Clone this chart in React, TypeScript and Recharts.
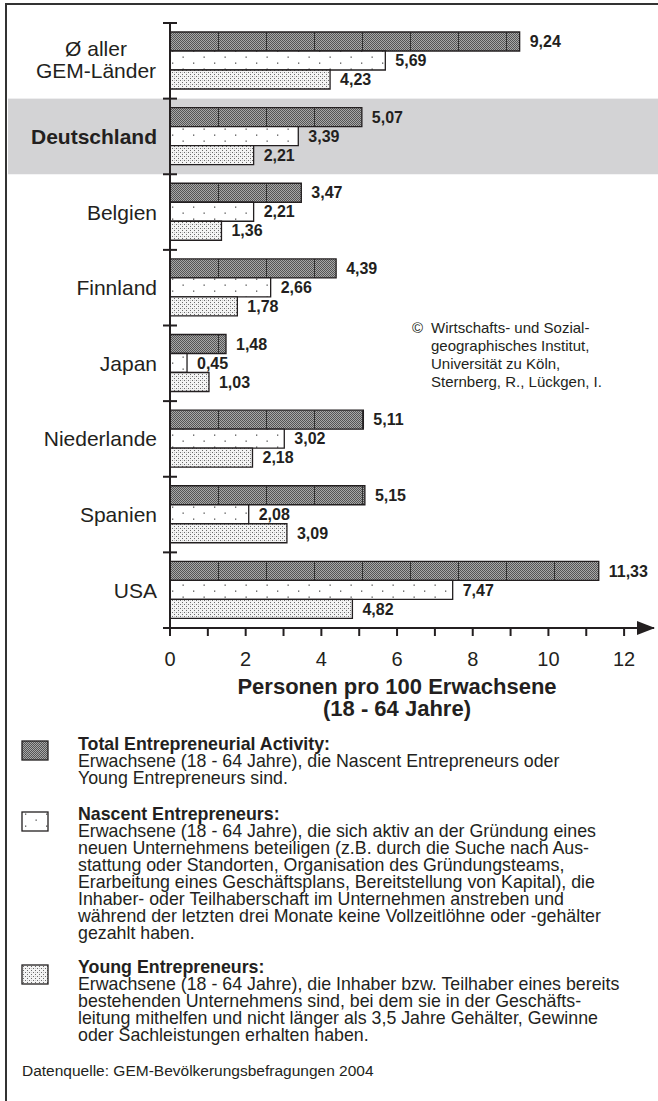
import React from 'react';
import { BarChart, Bar, XAxis, YAxis, ReferenceArea, LabelList } from 'recharts';

// ---------- data ----------
const categories = ['Ø aller\nGEM-Länder', 'Deutschland', 'Belgien', 'Finnland', 'Japan', 'Niederlande', 'Spanien', 'USA'];
const teaValues = [9.24, 5.07, 3.47, 4.39, 1.48, 5.11, 5.15, 11.33];
const nascentValues = [5.69, 3.39, 2.21, 2.66, 0.45, 3.02, 2.08, 7.47];
const youngValues = [4.23, 2.21, 1.36, 1.78, 1.03, 2.18, 3.09, 4.82];
const xTicks = [0, 1, 2, 3, 4, 5, 6, 7, 8, 9, 10, 11, 12];
const xTickLabels = [0, 2, 4, 6, 8, 10, 12];
const highlightCategory = 'Deutschland';
const AXIS_END = 12.79;

const axisTitle = ['Personen pro 100 Erwachsene', '(18 - 64 Jahre)'];
const copyrightLines = ['Wirtschafts- und Sozial-', 'geographisches Institut,', 'Universität zu Köln,', 'Sternberg, R., Lückgen, I.'];

const legendBlocks = [
  {
    key: 'tea',
    title: 'Total Entrepreneurial Activity:',
    lines: ['Erwachsene (18 - 64 Jahre), die Nascent Entrepreneurs oder', 'Young Entrepreneurs sind.'],
  },
  {
    key: 'nascent',
    title: 'Nascent Entrepreneurs:',
    lines: [
      'Erwachsene (18 - 64 Jahre), die sich aktiv an der Gründung eines',
      'neuen Unternehmens beteiligen (z.B. durch die Suche nach Aus-',
      'stattung oder Standorten, Organisation des Gründungsteams,',
      'Erarbeitung eines Geschäftsplans, Bereitstellung von Kapital), die',
      'Inhaber- oder Teilhaberschaft im Unternehmen anstreben und',
      'während der letzten drei Monate keine Vollzeitlöhne oder -gehälter',
      'gezahlt haben.',
    ],
  },
  {
    key: 'young',
    title: 'Young Entrepreneurs:',
    lines: [
      'Erwachsene (18 - 64 Jahre), die Inhaber bzw. Teilhaber eines bereits',
      'bestehenden Unternehmens sind, bei dem sie in der Geschäfts-',
      'leitung mithelfen und nicht länger als 3,5 Jahre Gehälter, Gewinne',
      'oder Sachleistungen erhalten haben.',
    ],
  },
];
const sourceText = 'Datenquelle: GEM-Bevölkerungsbefragungen 2004';

const data = categories.map((name, i) => ({
  name,
  tea: teaValues[i],
  nascent: nascentValues[i],
  young: youngValues[i],
}));

// ---------- styles ----------
const FONT = '"Liberation Sans", Arial, Helvetica, sans-serif';
const INK = '#231f20';
const CHART_W = 658;
const CHART_H = 740;
const MARGIN = { top: 23, right: 4, bottom: 52, left: 0 };
const Y_AXIS_W = 170;
const X_AXIS_H = 60;
const FALLBACK_HALF_BAND = (CHART_H - MARGIN.top - MARGIN.bottom - X_AXIS_H) / categories.length / 2;

const fmt = (v: any) => Number(v).toFixed(2).replace('.', ',');

const PatternDefs = ({ prefix, withLines }: { prefix: string; withLines: boolean }) => (
  <defs>
    <pattern id={`${prefix}TeaBase`} width="2" height="2" patternUnits="userSpaceOnUse">
      <rect width="2" height="2" fill="#a8a8a8" />
      <rect width="1" height="1" fill="#555555" />
      <rect x="1" y="1" width="1" height="1" fill="#555555" />
    </pattern>
    <pattern id={`${prefix}Tea`} x={withLines ? Y_AXIS_W : 0} width="48" height="2" patternUnits="userSpaceOnUse">
      <rect width="48" height="2" fill={`url(#${prefix}TeaBase)`} />
      {withLines && <rect x="0" y="0" width="1" height="2" fill="#333" />}
    </pattern>
    <pattern id={`${prefix}Nascent`} width="21" height="12" patternUnits="userSpaceOnUse">
      <rect width="21" height="12" fill="#ffffff" />
      <rect x="4" y="2.5" width="1.3" height="1.3" fill="#555" />
      <rect x="14.5" y="8.5" width="1.3" height="1.3" fill="#555" />
    </pattern>
    <pattern id={`${prefix}Young`} width="4" height="4" patternUnits="userSpaceOnUse">
      <rect width="4" height="4" fill="#f4f4f4" />
      <rect x="0" y="0" width="1" height="1" fill="#6a6a6a" />
      <rect x="2" y="2" width="1" height="1" fill="#6a6a6a" />
      <rect x="2" y="0" width="1" height="1" fill="#c8c8c8" />
    </pattern>
  </defs>
);

const YTick = (props: any) => {
  const { x, y, payload, index, visibleTicksCount } = props;
  const half = payload && payload.offset ? payload.offset : FALLBACK_HALF_BAND;
  const label = String(payload.value);
  const lines = label.split('\n');
  const bold = label === highlightCategory;
  const common = { fill: INK, fontSize: 21, fontFamily: FONT, dominantBaseline: 'central' as any };
  return (
    <g>
      <line x1={x - 7} x2={x + 7} y1={y - half} y2={y - half} stroke={INK} strokeWidth={2} />
      {index === visibleTicksCount - 1 && (
        <line x1={x - 7} x2={x + 7} y1={y + half} y2={y + half} stroke={INK} strokeWidth={2} />
      )}
      {lines.length === 1 ? (
        <text x={x - 13} y={y} textAnchor="end" fontWeight={bold ? 'bold' : 'normal'} {...common}>
          {lines[0]}
        </text>
      ) : (
        lines.map((ln, i) => (
          <text key={i} x={x - 74} y={y + (i - (lines.length - 1) / 2) * 22 - 1} textAnchor="middle" {...common}>
            {ln}
          </text>
        ))
      )}
    </g>
  );
};

const XTick = (props: any) => {
  const { x, y, payload } = props;
  const v = payload.value;
  if (v === AXIS_END) {
    return <polygon points={`${x + 1},${y} ${x - 17},${y - 7} ${x - 17},${y + 7}`} fill={INK} />;
  }
  return (
    <g>
      <line x1={x} x2={x} y1={y} y2={y + 8} stroke={INK} strokeWidth={2} />
      {xTickLabels.includes(v) && (
        <text x={x} y={y + 31} textAnchor="middle" dominantBaseline="central" fill={INK} fontSize={20} fontFamily={FONT}>
          {v}
        </text>
      )}
    </g>
  );
};

const BandShape = (props: any) => (
  <rect x={8} y={props.y} width={CHART_W - 8} height={props.height} fill="#d3d3d5" />
);

const labelProps = { fill: INK, fontSize: 16, fontWeight: 'bold', fontFamily: FONT };

const Swatch = ({ kind, top }: { kind: string; top: number }) => {
  const fill = kind === 'tea' ? 'url(#lgTea)' : kind === 'nascent' ? 'url(#lgNascent)' : 'url(#lgYoung)';
  return (
    <svg width={28} height={21} style={{ position: 'absolute', left: 21, top }}>
      <PatternDefs prefix={`lg`} withLines={false} />
      <rect x={1} y={1} width={26} height={19} fill={fill} stroke={INK} strokeWidth={1.3} />
    </svg>
  );
};

const LH = 17;
const LEGEND_FS = 17.8;
const legendTops = [736, 806, 959];
const swatchTops = [740, 811, 964];

export default function App() {
  return (
    <div
      style={{
        position: 'absolute',
        left: 0,
        top: 0,
        width: 658,
        height: 1101,
        background: '#fff',
        overflow: 'hidden',
        fontFamily: FONT,
        color: INK,
      }}
    >
      <div
        style={{
          position: 'absolute',
          left: 5,
          top: 3,
          width: 800,
          height: 1300,
          borderLeft: `2px solid #333`,
          borderTop: `2px solid #333`,
        }}
      />
      <div style={{ position: 'absolute', left: 0, top: 0 }}>
        <BarChart
          width={CHART_W}
          height={CHART_H}
          layout="vertical"
          data={data}
          margin={MARGIN}
          barCategoryGap={9}
          barGap={0}
        >
          <PatternDefs prefix="bar" withLines={true} />
          <ReferenceArea y1={highlightCategory} y2={highlightCategory} shape={BandShape} ifOverflow="visible" />
          <XAxis
            type="number"
            domain={[0, AXIS_END]}
            ticks={[...xTicks, AXIS_END]}
            interval={0}
            tick={<XTick />}
            tickLine={false}
            tickSize={0}
            tickMargin={0}
            axisLine={{ stroke: INK, strokeWidth: 2 }}
            height={X_AXIS_H}
            allowDataOverflow
          />
          <YAxis
            type="category"
            dataKey="name"
            width={Y_AXIS_W}
            tick={<YTick />}
            tickLine={false}
            tickSize={0}
            tickMargin={0}
            interval={0}
            axisLine={{ stroke: INK, strokeWidth: 2 }}
          />
          <Bar dataKey="tea" fill="url(#barTea)" stroke={INK} strokeWidth={1.3} isAnimationActive={false}>
            <LabelList dataKey="tea" position="right" offset={10} formatter={fmt} {...labelProps} />
          </Bar>
          <Bar dataKey="nascent" fill="url(#barNascent)" stroke={INK} strokeWidth={1.3} isAnimationActive={false}>
            <LabelList dataKey="nascent" position="right" offset={10} formatter={fmt} {...labelProps} />
          </Bar>
          <Bar dataKey="young" fill="url(#barYoung)" stroke={INK} strokeWidth={1.3} isAnimationActive={false}>
            <LabelList dataKey="young" position="right" offset={10} formatter={fmt} {...labelProps} />
          </Bar>
        </BarChart>
      </div>

      {/* copyright note */}
      <div style={{ position: 'absolute', left: 412, top: 319, fontSize: 15, lineHeight: '18px', whiteSpace: 'nowrap' }}>
        <span style={{ position: 'absolute', left: 0, top: 0 }}>©</span>
        {copyrightLines.map((ln, i) => (
          <div key={i} style={{ position: 'absolute', left: 19, top: i * 18 }}>
            {ln}
          </div>
        ))}
      </div>

      {/* axis title */}
      {axisTitle.map((t, i) => (
        <div
          key={t}
          style={{
            position: 'absolute',
            left: 197,
            width: 400,
            top: 675 + i * 22,
            textAlign: 'center',
            fontWeight: 'bold',
            fontSize: 22,
            lineHeight: '24px',
            whiteSpace: 'nowrap',
          }}
        >
          {t}
        </div>
      ))}

      {/* legend */}
      {legendBlocks.map((b, bi) => (
        <React.Fragment key={b.key}>
          <Swatch kind={b.key} top={swatchTops[bi]} />
          <div
            style={{
              position: 'absolute',
              left: 78,
              top: legendTops[bi],
              fontSize: LEGEND_FS,
              lineHeight: `${LH}px`,
              whiteSpace: 'nowrap',
            }}
          >
            <div style={{ fontWeight: 'bold' }}>{b.title}</div>
            {b.lines.map((ln, i) => (
              <div key={i}>{ln}</div>
            ))}
          </div>
        </React.Fragment>
      ))}
      <div style={{ position: 'absolute', left: 22, top: 1062, fontSize: 15.5, lineHeight: `18px`, whiteSpace: 'nowrap' }}>
        {sourceText}
      </div>
    </div>
  );
}
